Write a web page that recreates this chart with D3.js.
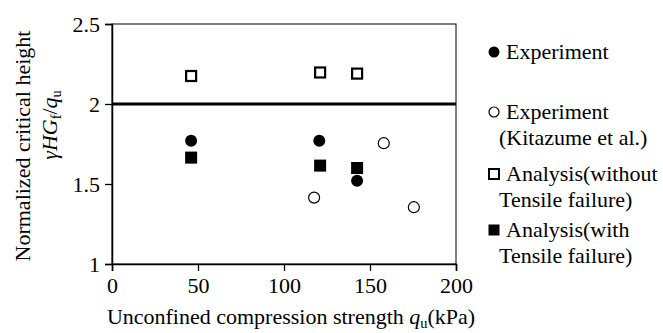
<!DOCTYPE html>
<html><head><meta charset="utf-8">
<script src="https://cdn.jsdelivr.net/npm/d3@7"></script>
</head>
<body style="margin:0;background:#fff"><svg id="c" width="663" height="333"></svg>
<script>
const xTicks = [0, 50, 100, 150, 200];
const yTicks = [1, 1.5, 2, 2.5];
const yTickLabels = ["1", "1.5", "2", "2.5"];
const refLineY = 2;

const experimentX = [46, 120.5, 142.5];
const experimentY = [1.77, 1.77, 1.52];
const kitazumeX = [117.5, 158, 175.5];
const kitazumeY = [1.415, 1.755, 1.355];
const withoutX = [46, 121, 142.5];
const withoutY = [2.175, 2.197, 2.19];
const withX = [46, 121, 142.5];
const withY = [1.665, 1.615, 1.6];

const legendLabels = [
  ["Experiment"],
  ["Experiment", "(Kitazume et al.)"],
  ["Analysis(without", "Tensile failure)"],
  ["Analysis(with", "Tensile failure)"]
];

const FONT = "Liberation Serif";
const svg = d3.select("#c");
const m = {l:112, t:24, w:344, h:240};
const x = d3.scaleLinear().domain([0,200]).range([m.l, m.l+m.w]);
const y = d3.scaleLinear().domain([1,2.5]).range([m.t+m.h, m.t]);
const fs = 22;

// frame
svg.append("rect").attr("x", m.l).attr("y", m.t).attr("width", m.w).attr("height", m.h)
  .attr("fill","none").attr("stroke","#000").attr("stroke-width",1);

// axes
const gx = svg.append("g").attr("transform",`translate(0,${m.t+m.h})`)
  .call(d3.axisBottom(x).tickValues(xTicks).tickSize(7).tickPadding(6).tickFormat(d3.format("d")));
const gy = svg.append("g").attr("transform",`translate(${m.l},0)`)
  .call(d3.axisLeft(y).tickValues(yTicks).tickSize(7).tickPadding(5).tickFormat((d,i)=>yTickLabels[i]));
[gx,gy].forEach(g=>{
  g.attr("font-family", FONT).attr("font-size", fs);
  g.select(".domain").attr("stroke","#000").attr("stroke-width",1.5);
  g.selectAll(".tick line").attr("stroke","#000").attr("stroke-width",1.3);
  g.selectAll("text").attr("fill","#000");
});

// reference line
svg.append("line").attr("x1", x(0)).attr("x2", x(200)).attr("y1", y(refLineY)).attr("y2", y(refLineY))
  .attr("stroke","#000").attr("stroke-width",3);

// markers
function circles(xs, ys, filled, r){
  svg.append("g").selectAll("circle").data(xs).join("circle")
    .attr("cx", d=>x(d)).attr("cy",(d,i)=>y(ys[i])).attr("r", r)
    .attr("fill", filled?"#000":"#fff").attr("stroke","#000").attr("stroke-width", filled?0:1.2);
}
function squares(xs, ys, filled, s){
  svg.append("g").selectAll("rect").data(xs).join("rect")
    .attr("x", d=>x(d)-s/2).attr("y",(d,i)=>y(ys[i])-s/2).attr("width", s).attr("height", s)
    .attr("fill", filled?"#000":"#fff").attr("stroke","#000").attr("stroke-width", filled?0:2.2);
}
circles(kitazumeX, kitazumeY, false, 5.5);
squares(withoutX, withoutY, false, 10);
squares(withX, withY, true, 12);
circles(experimentX, experimentY, true, 6);

function T(sel){ return sel.attr("font-family",FONT).attr("font-size",fs).attr("fill","#000"); }

// legend
const legY = [52, 112, 174, 230];
const lg = svg.append("g");
legendLabels.forEach((lines,i)=>{
  const cy = legY[i], mx = 494;
  if(i===0) lg.append("circle").attr("cx",mx).attr("cy",cy).attr("r",5.5).attr("fill","#000");
  if(i===1) lg.append("circle").attr("cx",mx).attr("cy",cy).attr("r",5).attr("fill","#fff").attr("stroke","#000").attr("stroke-width",1.2);
  if(i===2) lg.append("rect").attr("x",mx-5).attr("y",cy-5).attr("width",10).attr("height",10).attr("fill","#fff").attr("stroke","#000").attr("stroke-width",2);
  if(i===3) lg.append("rect").attr("x",mx-5.5).attr("y",cy-5.5).attr("width",11).attr("height",11).attr("fill","#000");
  lines.forEach((t,j)=>{
    T(lg.append("text")).attr("x", j===0?506:499).attr("y", cy + 7 + j*25.5).text(t);
  });
});

// x title
const xt = T(svg.append("text")).attr("x", 291).attr("y", 324).attr("text-anchor","middle");
xt.append("tspan").text("Unconfined compression strength ");
xt.append("tspan").attr("font-style","italic").text("q");
xt.append("tspan").attr("font-size",fs*0.65).attr("dy",4).text("u");
xt.append("tspan").attr("dy",-4).text("(kPa)");

// y title
const cyT = m.t + m.h/2;
T(svg.append("text")).attr("transform",`translate(30,${cyT+2}) rotate(-90)`).attr("text-anchor","middle")
  .text("Normalized critical height");
const yt2 = T(svg.append("text")).attr("transform",`translate(57,${cyT-19}) rotate(-90)`).attr("text-anchor","middle");
yt2.append("tspan").attr("font-style","italic").text("γHG");
yt2.append("tspan").attr("font-size",fs*0.65).attr("dy",4).text("f");
yt2.append("tspan").attr("dy",-4).text("/");
yt2.append("tspan").attr("font-style","italic").text("q");
yt2.append("tspan").attr("font-size",fs*0.65).attr("dy",4).text("u");
</script></body></html>
